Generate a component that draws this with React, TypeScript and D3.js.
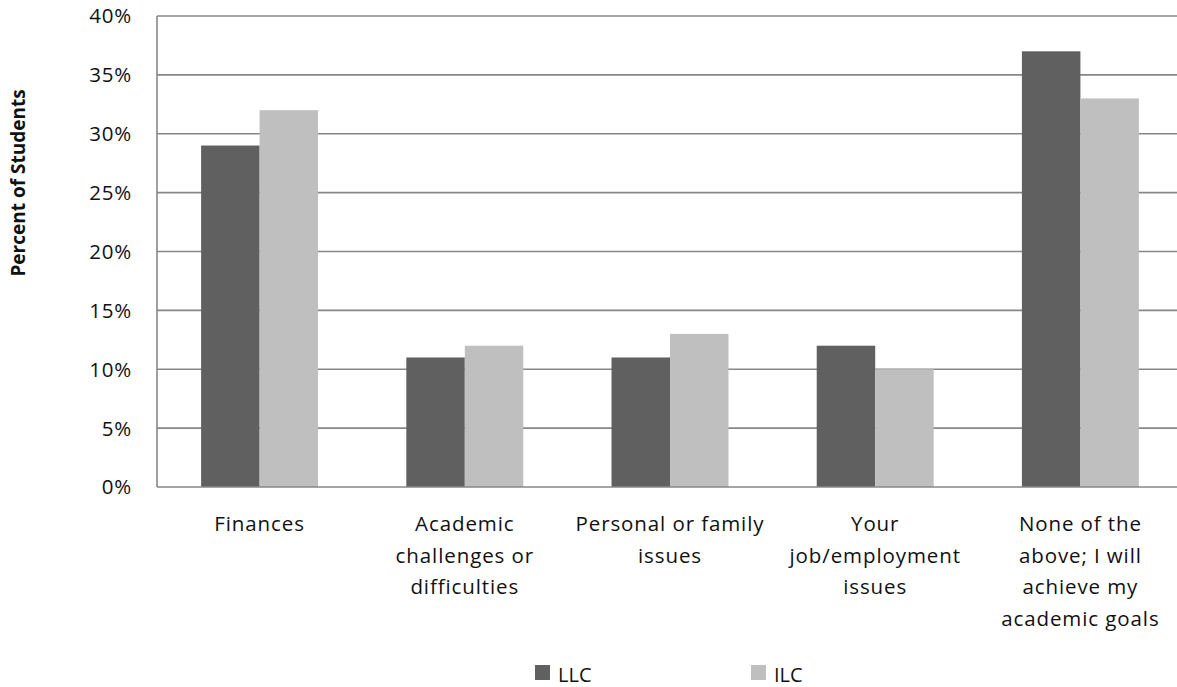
import React from "react";
import * as d3 from "d3";

const categories: string[][] = [
  ["Finances"],
  ["Academic", "challenges or", "difficulties"],
  ["Personal or family", "issues"],
  ["Your", "job/employment", "issues"],
  ["None of the", "above; I will", "achieve my", "academic goals"],
];
const seriesNames = ["LLC", "ILC"];
const llcValues = [29, 11, 11, 12, 37];
const ilcValues = [32, 12, 13, 10, 33];
const yTicks = [0, 5, 10, 15, 20, 25, 30, 35, 40];
const colors = ["#606060", "#bfbfbf"];

const W = 1177;
const H = 687;
const FONT = "'Open Sans', Lato, sans-serif";

export default function App() {
  const left = 157;
  const right = 1183;
  const top = 16;
  const bottom = 487;
  const x0 = d3
    .scaleBand<number>()
    .domain(d3.range(categories.length))
    .range([left, right])
    .paddingInner(0.43)
    .paddingOuter(0.215);
  const x1 = d3.scaleBand<number>().domain([0, 1]).range([0, x0.bandwidth()]);
  const y = d3.scaleLinear().domain([0, 40]).range([bottom, top]);
  const series = [llcValues, ilcValues];

  return (
    <svg
      width={W}
      height={H}
      style={{ position: "absolute", left: 0, top: 0, background: "#fff" }}
      fontFamily={FONT}
    >
      {yTicks.map((t) => (
        <g key={t}>
          {t > 0 && (
            <line x1={left} x2={W} y1={y(t)} y2={y(t)} stroke="#878787" strokeWidth={1.6} />
          )}
          <text x={132} y={y(t)} dy="0.36em" textAnchor="end" fontSize={20.5} fill="#111" letterSpacing={0.8}>
            {t}%
          </text>
        </g>
      ))}
      {series.map((vals, s) =>
        vals.map((v, i) => (
          <rect
            key={`${s}-${i}`}
            x={(x0(i) as number) + (x1(s) as number)}
            y={y(v)}
            width={x1.bandwidth()}
            height={bottom - y(v)}
            fill={colors[s]}
          />
        ))
      )}
      <line x1={left} x2={left} y1={top} y2={bottom} stroke="#878787" strokeWidth={1.6} />
      <line x1={left} x2={W} y1={bottom} y2={bottom} stroke="#878787" strokeWidth={1.6} />
      {categories.map((lines, i) => (
        <text
          key={i}
          x={(x0(i) as number) + x0.bandwidth() / 2}
          y={531}
          textAnchor="middle"
          fontSize={20.5}
          fill="#111"
          letterSpacing={0.9}
        >
          {lines.map((ln, j) => (
            <tspan key={j} x={(x0(i) as number) + x0.bandwidth() / 2} y={531 + j * 31.5}>
              {ln}
            </tspan>
          ))}
        </text>
      ))}
      <text
        transform="translate(25,183) rotate(-90)"
        textAnchor="middle"
        fontSize={19}
        fontWeight="bold"
        fill="#111"
      >
        Percent of Students
      </text>
      {seriesNames.map((n, s) => (
        <g key={n} transform={`translate(${535 + s * 216},665)`}>
          <rect x={0} y={0} width={15} height={15} fill={colors[s]} />
          <text x={23} y={16.5} fontSize={20} fill="#111">
            {n}
          </text>
        </g>
      ))}
    </svg>
  );
}
